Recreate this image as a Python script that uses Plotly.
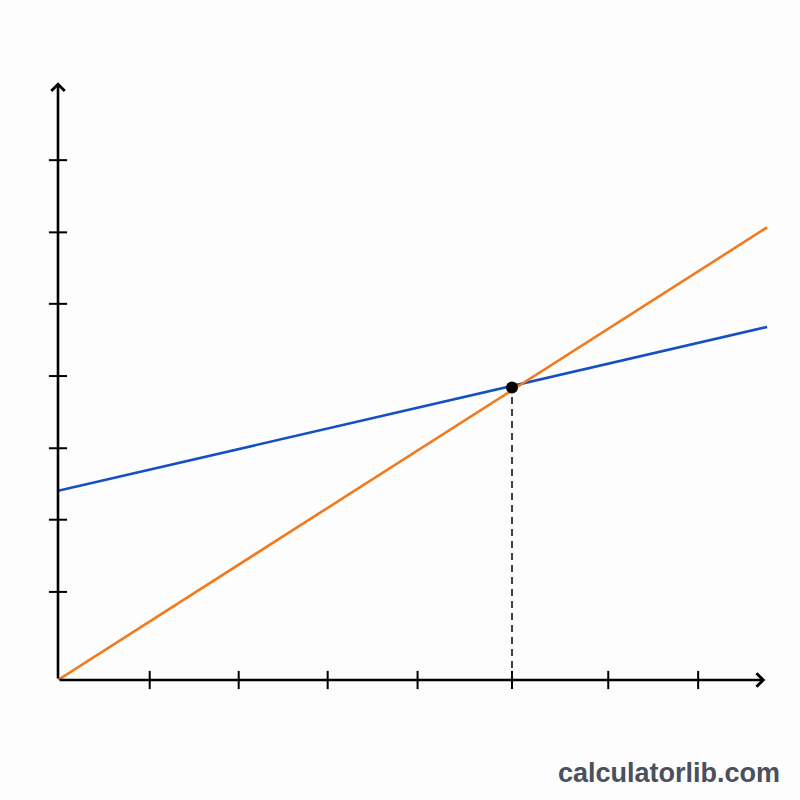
import plotly.graph_objects as go

# Data (unitless chart)
x_ticks = [1.01, 1.99, 2.97, 3.96, 5.0, 6.06, 7.05]
y_ticks = [1.22, 2.22, 3.21, 4.21, 5.21, 6.2, 7.2]
line_x = [0.0, 7.81]
orange_y = [0.0, 6.27]
blue_y = [2.62, 4.89]
intersect_x = [5.0]
intersect_y = [4.05]
x_axis_end = 7.79
y_axis_end = 8.28

fig = go.Figure()

# tick marks
fig.add_trace(go.Scatter(x=x_ticks, y=[0] * len(x_ticks), mode="markers", cliponaxis=False,
                         marker=dict(symbol="line-ns-open", size=13, color="black",
                                     line=dict(width=2, color="black")),
                         hoverinfo="skip", showlegend=False))
fig.add_trace(go.Scatter(x=[0] * len(y_ticks), y=y_ticks, mode="markers", cliponaxis=False,
                         marker=dict(symbol="line-ew-open", size=13, color="black",
                                     line=dict(width=2, color="black")),
                         hoverinfo="skip", showlegend=False))

# dashed drop line
fig.add_trace(go.Scatter(x=[intersect_x[0], intersect_x[0]], y=[0, intersect_y[0]], mode="lines",
                         line=dict(color="#111111", width=1.6, dash="7px,5px"),
                         hoverinfo="skip", showlegend=False))

# lines
fig.add_trace(go.Scatter(x=line_x, y=blue_y, mode="lines",
                         line=dict(color="#1450c4", width=2.6), showlegend=False))
fig.add_trace(go.Scatter(x=line_x, y=orange_y, mode="lines",
                         line=dict(color="#f27a1c", width=2.6), showlegend=False))

# intersection point
fig.add_trace(go.Scatter(x=intersect_x, y=intersect_y, mode="markers", cliponaxis=False,
                         marker=dict(color="black", size=12), showlegend=False))

# axes with arrows
fig.add_annotation(x=x_axis_end, y=0, ax=0, ay=0, xref="x", yref="y", axref="x", ayref="y",
                   showarrow=True, arrowhead=4, arrowsize=1.0, arrowwidth=2.6,
                   arrowcolor="black", text="")
fig.add_annotation(x=0, y=y_axis_end, ax=0, ay=0, xref="x", yref="y", axref="x", ayref="y",
                   showarrow=True, arrowhead=4, arrowsize=1.0, arrowwidth=2.6,
                   arrowcolor="black", text="")

# watermark
fig.add_annotation(x=1.003, y=-0.15, xref="paper", yref="paper", xanchor="right", yanchor="middle",
                   text="<b>calculatorlib.com</b>", showarrow=False,
                   font=dict(family="Liberation Sans, Arial, sans-serif", size=27, color="#4a505c"))

fig.update_xaxes(range=[0, (780 - 58) / 90.8], visible=False, fixedrange=True)
fig.update_yaxes(range=[0, 620 / 72.2], visible=False, fixedrange=True)
fig.update_layout(width=800, height=800, margin=dict(l=58, r=20, t=60, b=120),
                  plot_bgcolor="#fdfdfd", paper_bgcolor="#fdfdfd", showlegend=False)

fig.write_html("out.html")
